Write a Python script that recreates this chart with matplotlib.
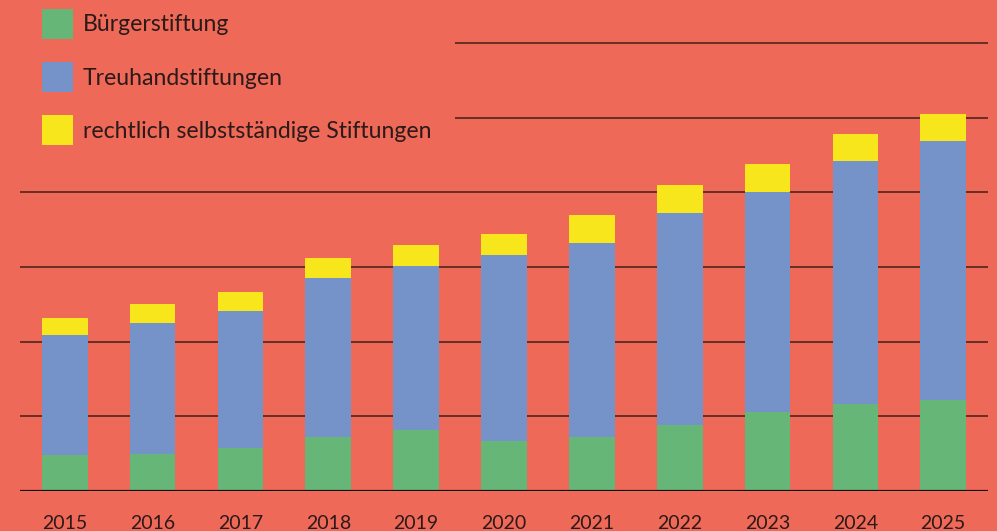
import matplotlib.pyplot as plt
import numpy as np
from matplotlib.patches import Patch, Rectangle

# Daten
jahre = ['2015', '2016', '2017', '2018', '2019', '2020', '2021', '2022', '2023', '2024', '2025']
buerger = [9.6, 9.9, 11.6, 14.5, 16.3, 13.4, 14.5, 17.7, 21.2, 23.3, 24.4]
treuhand = [32.1, 35.1, 36.6, 42.6, 43.9, 49.8, 51.9, 56.8, 58.9, 65.1, 69.3]
selbst = [4.6, 5.1, 5.1, 5.4, 5.6, 5.6, 7.5, 7.5, 7.5, 7.2, 7.2]
labels = ['Bürgerstiftung', 'Treuhandstiftungen', 'rechtlich selbstständige Stiftungen']

bg = '#ee6957'
farben = ['#66b777', '#7592c9', '#f7e61b']

plt.rcParams['font.family'] = ['Lato', 'DejaVu Sans']

fig = plt.figure(figsize=(9.97, 5.31), dpi=100)
fig.patch.set_facecolor(bg)
ax = fig.add_axes([20/997, 40/531, 968/997, 491/531])
ax.set_facecolor(bg)

x = np.arange(len(jahre))
b = 0.52
ax.bar(x, buerger, b, color=farben[0], zorder=3)
ax.bar(x, treuhand, b, bottom=buerger, color=farben[1], zorder=3)
ax.bar(x, selbst, b, bottom=np.array(buerger) + np.array(treuhand), color=farben[2], zorder=3)

# Gitterlinien
for y in range(20, 121, 20):
    ax.axhline(y, color='#5a2a22', lw=1.3, zorder=1)
ax.axhline(0, color='#111111', lw=1.6, zorder=4)

ax.set_xlim(-0.51, 10.51)
ax.set_ylim(0, 131.5)
ax.set_xticks(x)
ax.set_xticklabels(jahre, fontsize=14, color='#2a1a1a')
ax.tick_params(axis='x', length=0, pad=17)
ax.set_yticks([])
for s in ax.spines.values():
    s.set_visible(False)

# Hintergrund hinter der Legende
fig.patches.append(Rectangle((0, 1 - 150/531), 455/997, 150/531, transform=fig.transFigure,
                             facecolor=bg, edgecolor='none', zorder=2))

handles = [Patch(facecolor=c, edgecolor='none') for c in farben]
fig.legend(handles, labels, loc='upper left', bbox_to_anchor=(42/997, 1 - 9/531),
           frameon=False, fontsize=16.6, handlelength=1.35, handleheight=1.6,
           handletextpad=0.43, labelspacing=1.02, borderpad=0, borderaxespad=0,
           labelcolor='#2a1a1a')

fig.savefig('out.png', dpi=100, facecolor=bg)
